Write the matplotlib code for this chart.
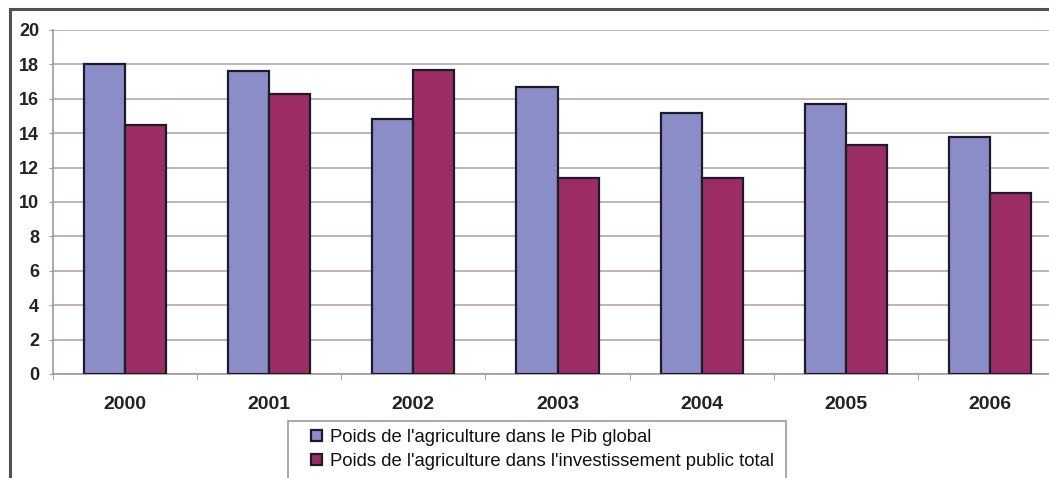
import numpy as np
import matplotlib.pyplot as plt
from matplotlib.lines import Line2D
from matplotlib.patches import Rectangle

years = ['2000', '2001', '2002', '2003', '2004', '2005', '2006']
pib = [18.0, 17.6, 14.8, 16.7, 15.2, 15.7, 13.8]
invest = [14.5, 16.3, 17.7, 11.4, 11.4, 13.3, 10.5]
labels = ["Poids de l'agriculture dans le Pib global",
          "Poids de l'agriculture dans l'investissement public total"]

plt.rcParams['font.family'] = ['Liberation Sans', 'DejaVu Sans']

W, H = 1049, 478
fig = plt.figure(figsize=(W / 100, H / 100), dpi=100)
fig.patch.set_facecolor('white')

# plot area runs past the right edge of the figure
x0, x1, ytop, ybot = 53, 1062, 30, 374
ax = fig.add_axes([x0 / W, 1 - ybot / H, (x1 - x0) / W, (ybot - ytop) / H])

x = np.arange(len(years))
bw = 0.285
edge = '#1e1a2a'
ax.bar(x - bw / 2, pib, bw, color='#8a8dc8', edgecolor=edge, linewidth=1.6,
       label=labels[0], zorder=3)
ax.bar(x + bw / 2, invest, bw, color='#9b2d62', edgecolor=edge, linewidth=1.6,
       label=labels[1], zorder=3)

ax.set_xlim(-0.5, len(years) - 0.5)
ax.set_ylim(0, 20)
ax.set_yticks(range(0, 21, 2))
ax.yaxis.grid(True, color='#b8b0ac', linewidth=1.3, zorder=0)
ax.set_axisbelow(True)

for s in ['top', 'right']:
    ax.spines[s].set_visible(False)
for s in ['left', 'bottom']:
    ax.spines[s].set_color('#a09a98')
    ax.spines[s].set_linewidth(1.2)

ax.set_xticks(x)
ax.set_xticklabels(years, fontsize=14, color='#222222')
ax.set_xticks(np.arange(-0.5, len(years), 1), minor=True)
ax.tick_params(axis='x', which='major', length=0, pad=16)
ax.tick_params(axis='x', which='minor', length=4, color='#a09a98')
ax.tick_params(axis='y', length=3, color='#a09a98', labelsize=13,
               labelcolor='#222222', pad=7)
for t in ax.get_yticklabels() + ax.get_xticklabels():
    t.set_fontweight('bold')

# legend box, cut off by the bottom edge
fig.add_artist(Rectangle((288 / W, -0.05), (786 - 288) / W, 0.05 + 1 - 421 / H,
                         transform=fig.transFigure, facecolor='white',
                         edgecolor='#a09a98', linewidth=1.2, zorder=2))
leg = fig.legend(loc='upper left', bbox_to_anchor=(311 / W, 1 - 429 / H),
                 fontsize=13.3, frameon=False, handlelength=0.6,
                 handleheight=0.6, handletextpad=0.45, borderpad=0,
                 labelspacing=0.38, borderaxespad=0)
leg.set_zorder(3)
for t in leg.get_texts():
    t.set_color('#111111')

# outer chart border, cropped at right and bottom
fig.add_artist(Line2D([10 / W, 10 / W], [0, 1 - 9 / H], color='#555050', linewidth=2.2))
fig.add_artist(Line2D([10 / W, 1], [1 - 9 / H, 1 - 9 / H], color='#555050', linewidth=2.2))

fig.savefig('out.png', dpi=100)
